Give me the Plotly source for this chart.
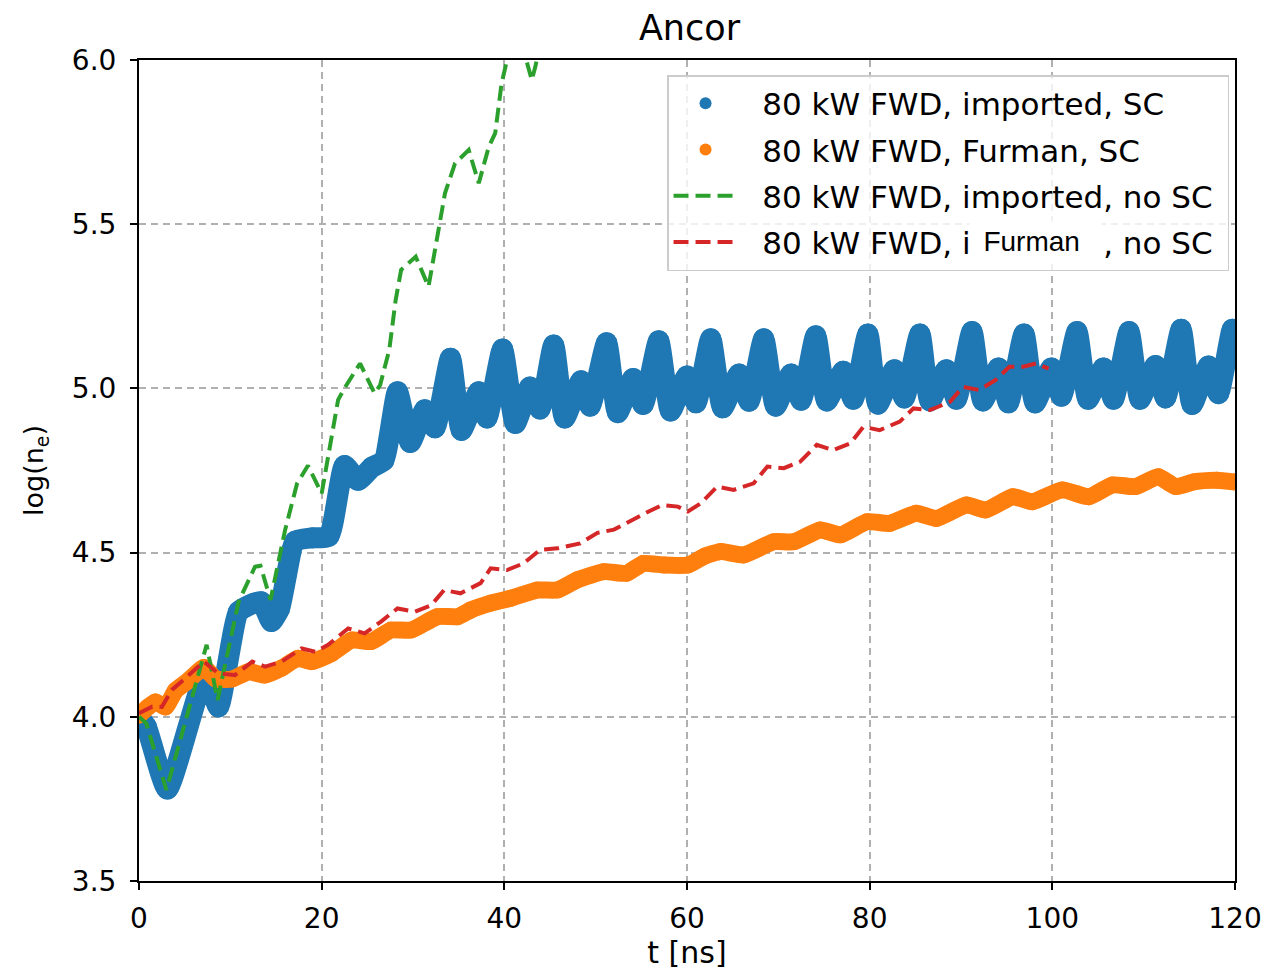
import plotly.graph_objects as go

# ---------------- data ----------------
blue_t = [0.0, 0.8, 3.1, 7.3, 8.7, 10.9, 12.5, 13.4, 14.5, 15.4, 17.1, 19.0, 20.8,
          22.5, 24.0, 25.5, 26.8, 28.3, 29.7, 31.3, 32.4, 34.1, 35.3, 37.2, 38.1,
          39.8, 41.2, 42.8, 43.9, 45.4, 46.6, 48.4, 49.4, 51.2, 52.4, 54.1, 55.2,
          56.9, 58.2, 60.0, 61.0, 62.6, 63.9, 65.7, 66.8, 68.4, 69.7, 71.4, 72.5,
          74.1, 75.3, 77.1, 78.2, 79.8, 80.9, 82.7, 83.8, 85.5, 86.6, 88.4, 89.5,
          91.2, 92.4, 94.1, 95.2, 96.9, 98.1, 99.9, 101.0, 102.7, 103.9, 105.6, 106.7,
          108.4, 109.6, 111.3, 112.4, 114.1, 115.3, 117.1, 118.2, 119.7, 120.0]
blue_y = [4.00, 3.97, 3.78, 4.13, 4.03, 4.32, 4.345, 4.35, 4.29, 4.33, 4.535, 4.545, 4.55,
          4.765, 4.72, 4.76, 4.78, 4.99, 4.835, 4.935, 4.88, 5.092, 4.872, 4.99, 4.91,
          5.12, 4.893, 5.004, 4.937, 5.132, 4.91, 5.023, 4.946, 5.139, 4.926, 5.03, 4.951,
          5.145, 4.931, 5.038, 4.956, 5.151, 4.941, 5.044, 4.961, 5.151, 4.946, 5.044, 4.964,
          5.16, 4.962, 5.052, 4.967, 5.166, 4.952, 5.057, 4.971, 5.166, 4.962, 5.057, 4.967,
          5.173, 4.962, 5.062, 4.956, 5.166, 4.956, 5.062, 4.976, 5.173, 4.967, 5.062, 4.967,
          5.173, 4.967, 5.07, 4.971, 5.18, 4.951, 5.068, 4.984, 5.18, 5.165]

orange_t = [0.0, 1.0, 1.8, 2.9, 4.0, 5.4, 7.1, 8.4, 10.2, 12.0, 13.8, 15.6, 17.4, 18.9,
            21.1, 23.3, 25.4, 27.6, 29.8, 32.7, 34.9, 36.3, 38.5, 40.7, 43.6, 45.8, 48.0,
            50.9, 53.4, 55.2, 57.5, 60.1, 62.0, 63.7, 66.2, 69.5, 71.7, 74.6, 76.8, 79.7,
            82.2, 85.1, 87.3, 90.6, 92.7, 95.7, 97.8, 101.1, 104.0, 106.6, 109.1, 111.6,
            113.5, 115.6, 118.0, 120.0]
orange_y = [4.005, 4.03, 4.045, 4.03, 4.08, 4.11, 4.15, 4.115, 4.115, 4.137, 4.127, 4.148,
            4.178, 4.168, 4.193, 4.234, 4.229, 4.264, 4.264, 4.305, 4.305, 4.325, 4.346,
            4.361, 4.386, 4.386, 4.417, 4.442, 4.437, 4.467, 4.462, 4.462, 4.49, 4.503,
            4.493, 4.533, 4.533, 4.569, 4.554, 4.594, 4.589, 4.62, 4.604, 4.645, 4.63,
            4.67, 4.655, 4.691, 4.67, 4.706, 4.701, 4.731, 4.701, 4.716, 4.72, 4.715]

green_t = [0.0, 0.8, 3.0, 7.4, 8.6, 10.9, 12.7, 13.3, 14.4, 16.0, 17.3, 18.5, 20.0, 21.8,
           22.6, 24.2, 25.8, 26.4, 27.4, 28.1, 28.7, 30.3, 31.7, 32.4, 33.5, 34.6, 36.1,
           37.2, 38.3, 39.0, 39.7, 40.3, 41.3, 42.4, 43.0, 43.4, 44.0]
green_y = [4.0, 3.98, 3.777, 4.219, 4.051, 4.35, 4.457, 4.46, 4.356, 4.569, 4.71, 4.765,
           4.68, 4.965, 5.005, 5.076, 4.985, 5.01, 5.117, 5.269, 5.361, 5.401, 5.31, 5.421,
           5.594, 5.685, 5.726, 5.625, 5.736, 5.777, 5.929, 6.0, 6.06, 6.0, 5.939, 5.98, 6.06]

red_t = [0.0, 1.45, 2.5, 3.6, 5.1, 7.1, 8.7, 10.5, 12.4, 13.8, 15.6, 17.8, 19.3, 20.7,
         22.9, 24.7, 26.5, 28.3, 30.2, 32.0, 33.4, 35.2, 37.4, 38.5, 40.3, 42.1, 43.9,
         45.8, 48.3, 50.2, 52.0, 54.0, 55.8, 57.3, 59.0, 60.1, 61.5, 63.3, 65.1, 67.3,
         68.8, 70.6, 72.4, 74.2, 76.0, 77.9, 79.3, 81.1, 83.3, 84.8, 86.6, 88.8, 90.2,
         92.0, 93.8, 95.3, 96.8, 98.2, 99.6]
red_y = [4.011, 4.031, 4.03, 4.082, 4.118, 4.168, 4.132, 4.127, 4.168, 4.153, 4.168,
         4.208, 4.198, 4.219, 4.269, 4.254, 4.29, 4.33, 4.32, 4.34, 4.386, 4.376, 4.407,
         4.452, 4.447, 4.467, 4.508, 4.513, 4.528, 4.56, 4.57, 4.60, 4.625, 4.645, 4.64,
         4.625, 4.65, 4.701, 4.691, 4.711, 4.762, 4.757, 4.777, 4.828, 4.812, 4.833,
         4.883, 4.873, 4.899, 4.939, 4.934, 4.959, 5.005, 4.995, 5.026, 5.066, 5.066,
         5.076, 5.06]

names = ["80 kW FWD, imported, SC", "80 kW FWD, Furman, SC",
         "80 kW FWD, imported, no SC", "80 kW FWD, imported, no SC"]
x_ticks = [0, 20, 40, 60, 80, 100, 120]
y_ticks = [3.5, 4.0, 4.5, 5.0, 5.5, 6.0]

C_BLUE, C_ORANGE, C_GREEN, C_RED = "#1f77b4", "#ff7f0e", "#2ca02c", "#d62728"
FONT = "DejaVu Sans"
PAD = "\u00a0\u00a0"


def lbl(s):
    return PAD + s + "\u00a0"


fig = go.Figure()
# legend-only marker entries
fig.add_trace(go.Scatter(x=[None], y=[None], mode="markers", name=lbl(names[0]),
                         marker=dict(color=C_BLUE, size=12), legendgroup="g1"))
fig.add_trace(go.Scatter(x=[None], y=[None], mode="markers", name=lbl(names[1]),
                         marker=dict(color=C_ORANGE, size=12), legendgroup="g2"))
# thick dotted bands
fig.add_trace(go.Scatter(x=blue_t, y=blue_y, mode="lines+markers", showlegend=False,
                         line=dict(color=C_BLUE, width=21, shape="spline", smoothing=0.5),
                         marker=dict(color=C_BLUE, size=21), legendgroup="g1"))
fig.add_trace(go.Scatter(x=orange_t, y=orange_y, mode="lines+markers", showlegend=False,
                         line=dict(color=C_ORANGE, width=17, shape="spline", smoothing=0.5),
                         marker=dict(color=C_ORANGE, size=17), legendgroup="g2"))
fig.add_trace(go.Scatter(x=green_t, y=green_y, mode="lines", name=lbl(names[2]),
                         line=dict(color=C_GREEN, width=4, dash="15px,7px"),
                         legendgroup="g3"))
fig.add_trace(go.Scatter(x=red_t, y=red_y, mode="lines", name=lbl(names[3]),
                         line=dict(color=C_RED, width=4, dash="15px,7px"),
                         legendgroup="g4"))

L, R, T, B = 139, 34, 60, 95
W, H = 1274, 976
pw, ph = W - L - R, H - T - B

axis_common = dict(showline=True, linecolor="black", linewidth=2, mirror=True,
                   ticks="outside", ticklen=7, tickwidth=2, tickcolor="black",
                   showgrid=True, gridcolor="#b0b0b0", gridwidth=1.5,
                   griddash="7px,5px", zeroline=False,
                   tickfont=dict(family=FONT, size=28, color="black"))

fig.update_layout(
    width=W, height=H,
    margin=dict(l=L, r=R, t=T, b=B),
    paper_bgcolor="white", plot_bgcolor="white",
    title=dict(text="Ancor", x=(L + pw / 2) / W, xanchor="center",
               y=1 - 28 / H, yanchor="middle", yref="container",
               font=dict(family=FONT, size=35, color="black")),
    xaxis=dict(range=[0, 120], tickvals=x_ticks, ticklabelstandoff=4,
               title=dict(text="t [ns]", font=dict(family=FONT, size=30, color="black"),
                          standoff=4),
               **axis_common),
    yaxis=dict(range=[3.5, 6.0], tickvals=y_ticks, tickformat=".1f", ticklabelstandoff=8,
               title=dict(text="log(n<sub>e</sub>)",
                          font=dict(family=FONT, size=27, color="black"), standoff=20),
               **axis_common),
    legend=dict(x=(1234 - L) / pw, xanchor="right", y=(H - B - 75) / ph, yanchor="top",
                font=dict(family=FONT, size=31, color="black"),
                bgcolor="rgba(255,255,255,0.8)", bordercolor="#cccccc", borderwidth=1.5,
                traceorder="grouped", tracegroupgap=3, itemwidth=64),
    showlegend=True,
)

fig.add_annotation(text="Furman\u00a0", xref="paper", yref="paper",
                   x=(972.5 - L) / pw, xanchor="left", y=(H - B - 241) / ph, yanchor="middle",
                   width=129, height=36, bgcolor="white", align="center",
                   showarrow=False, font=dict(family="Liberation Sans", size=28, color="black"))

fig.write_html("out.html")
